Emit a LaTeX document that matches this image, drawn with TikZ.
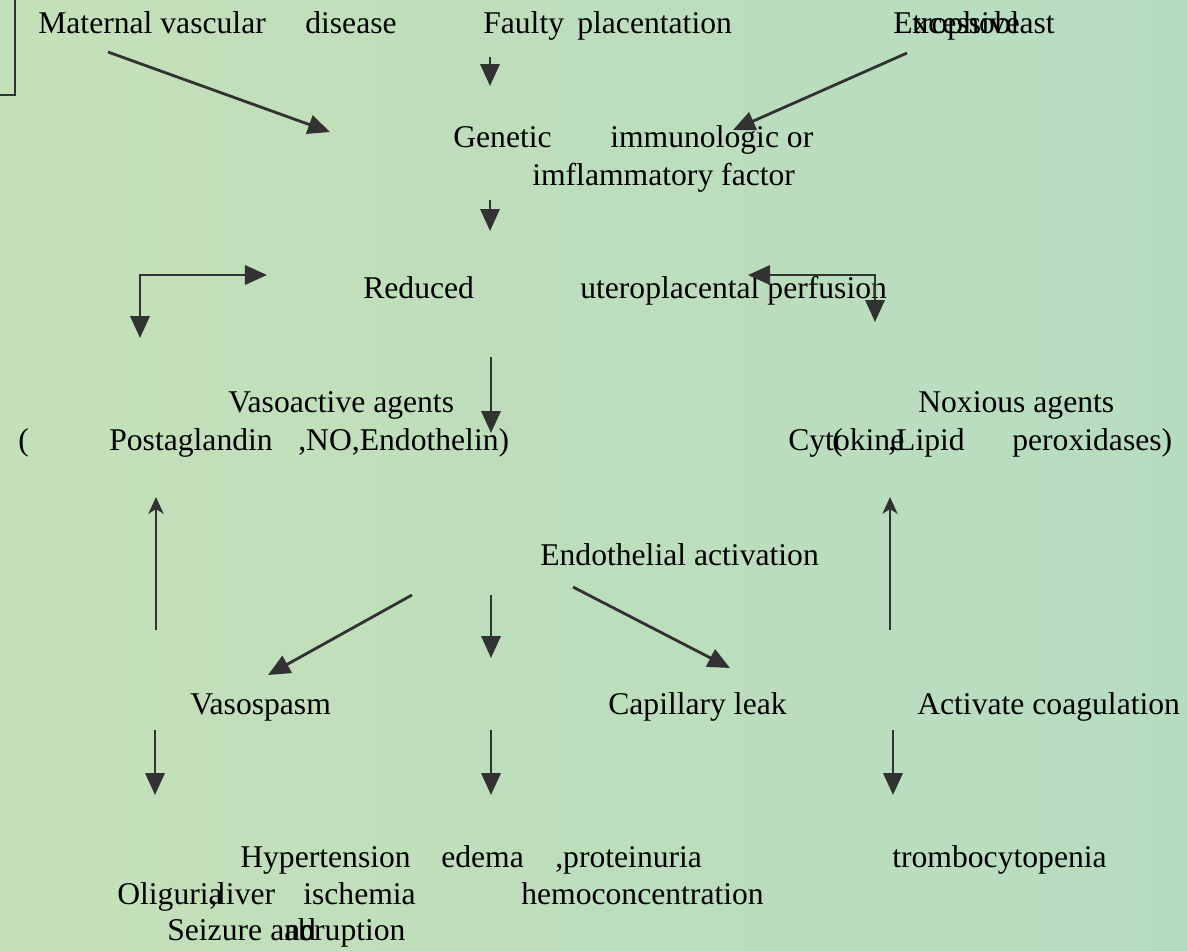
\documentclass[tikz,border=0pt]{standalone}
\usepackage{fontspec}
\setmainfont{Liberation Serif}
\usetikzlibrary{arrows.meta, positioning}

\definecolor{bgleft}{RGB}{196,224,184}
\definecolor{bgright}{RGB}{182,220,192}
\definecolor{ink}{RGB}{50,50,50}

\begin{document}
\begin{tikzpicture}[
    x=0.025cm, y=-0.025cm,
    font=\fontsize{22.5}{27}\selectfont,
    lbl/.style={anchor=base west, inner sep=0pt},
    link/.style={draw=ink, line width=2pt, -{Triangle[length=5.5mm, width=4.8mm]}},
    bothway/.style={draw=ink, line width=2pt, {Triangle[length=5.5mm, width=4.8mm]}-{Triangle[length=5.5mm, width=4.8mm]}},
    back/.style={draw=ink, line width=1.8pt, -{Stealth[length=4.2mm, width=3.8mm, inset=1.2mm]}}
]
\useasboundingbox (0,0) rectangle (1187,950);
\shade[left color=bgleft, right color=bgright] (0,0) rectangle (1187,950);
\draw[ink, line width=1.4pt] (15,0) -- (15,95) -- (0,95);

% causes
\node[lbl] (mat) at (38,33)  {Maternal vascular};
\node[lbl] (dis) at (305,33) {disease};
\node[lbl] (fau) at (483,33) {Faulty};
\node[lbl] (pla) at (577,33) {placentation};
\node[lbl] (exc) at (893,33) {Excessive};
\node[lbl] (tro) at (912,33) {trophoblast};

\node[lbl] (gen) at (453,147) {Genetic};
\node[lbl] (imm) at (610,147) {immunologic or};
\node[lbl] (inf) at (532,185) {imflammatory factor};

\node[lbl] (red) at (363,298) {Reduced};
\node[lbl] (utp) at (580,298) {uteroplacental perfusion};

% agents
\node[lbl] (vas) at (228,412) {Vasoactive agents};
\node[lbl] (vpo) at (18,450)  {(};
\node[lbl] (vpg) at (109,450) {Postaglandin};
\node[lbl] (vno) at (298,450) {,NO,Endothelin)};

\node[lbl] (nox) at (918,412)  {Noxious agents};
\node[lbl] (cyt) at (788,450)  {Cytokine};
\node[lbl] (cpo) at (832,450)  {(};
\node[lbl] (lip) at (888,450)  {,Lipid};
\node[lbl] (per) at (1012,450) {peroxidases)};

\node[lbl] (end) at (540,565) {Endothelial activation};

% effects
\node[lbl] (spa) at (190,714) {Vasospasm};
\node[lbl] (cap) at (608,714) {Capillary leak};
\node[lbl] (coa) at (917,714) {Activate coagulation};

\node[lbl] (hyp) at (240,867) {Hypertension};
\node[lbl] (ede) at (441,867) {edema};
\node[lbl] (pro) at (555,867) {,proteinuria};
\node[lbl] (tho) at (892,867) {trombocytopenia};
\node[lbl] (oli) at (117,904) {Oliguria};
\node[lbl] (liv) at (209,904) {,liver};
\node[lbl] (isc) at (303,904) {ischemia};
\node[lbl] (hem) at (521,904) {hemoconcentration};
\node[lbl] (sei) at (167,940) {Seizure};
\node[lbl] (and) at (270,940) {and};
\node[lbl] (abr) at (284,940) {abruption};

% arrow ends
\coordinate (m1) at (108,52);  \coordinate (m2) at (330,132);
\coordinate (f1) at (490,57);  \coordinate (f2) at (490,86);
\coordinate (x1) at (907,53);  \coordinate (x2) at (733,130);
\coordinate (g1) at (490,200); \coordinate (g2) at (490,231);
\coordinate (bl1) at (140,338); \coordinate (bl2) at (267,275);
\coordinate (br1) at (748,275); \coordinate (br2) at (875,322);
\coordinate (r1) at (491,357); \coordinate (r2) at (491,433);
\coordinate (u1) at (156,630); \coordinate (u2) at (156,497);
\coordinate (w1) at (890,630); \coordinate (w2) at (890,497);
\coordinate (e1) at (412,595); \coordinate (e2) at (268,675);
\coordinate (e3) at (491,595); \coordinate (e4) at (491,658);
\coordinate (e5) at (573,587); \coordinate (e6) at (730,668);
\coordinate (d1) at (155,730); \coordinate (d2) at (155,795);
\coordinate (d3) at (491,730); \coordinate (d4) at (491,795);
\coordinate (d5) at (893,730); \coordinate (d6) at (893,795);

\draw[link] (m1) -- (m2);
\draw[link] (f1) -- (f2);
\draw[link] (x1) -- (x2);
\draw[link] (g1) -- (g2);
\draw[bothway] (bl1) |- (bl2);
\draw[bothway] (br1) -| (br2);
\draw[link] (r1) -- (r2);
\draw[back] (u1) -- (u2);
\draw[back] (w1) -- (w2);
\draw[link] (e1) -- (e2);
\draw[link] (e3) -- (e4);
\draw[link] (e5) -- (e6);
\draw[link] (d1) -- (d2);
\draw[link] (d3) -- (d4);
\draw[link] (d5) -- (d6);
\end{tikzpicture}
\end{document}
